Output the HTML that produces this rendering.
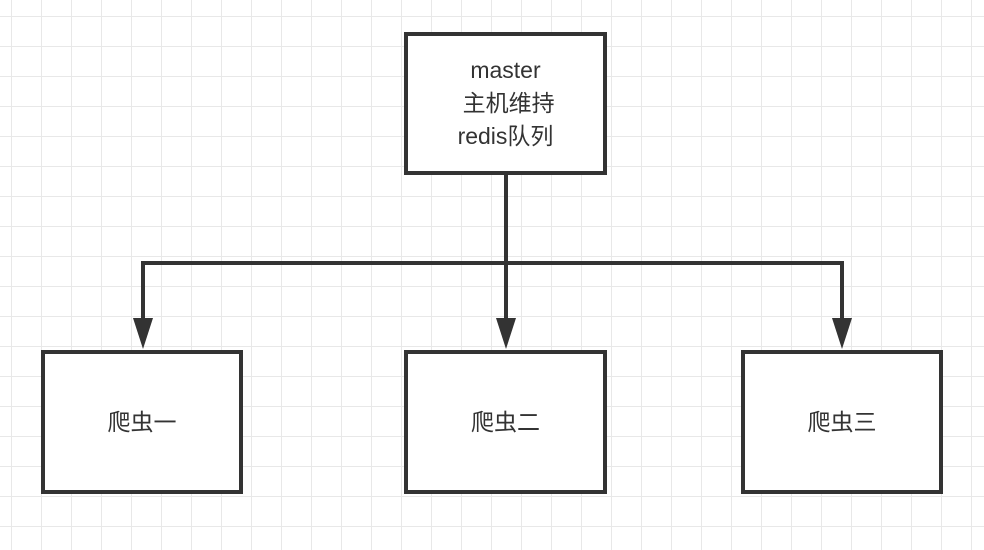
<!DOCTYPE html>
<html><head><meta charset="utf-8"><style>
html,body{margin:0;padding:0;}
body{width:984px;height:550px;overflow:hidden;background:#fff;
background-image:linear-gradient(to right,#e8e8e8 1px,transparent 1px),linear-gradient(to bottom,#e8e8e8 1px,transparent 1px);
background-size:30px 30px;background-position:11px 16px;position:relative;
font-family:"Liberation Sans","Noto Sans CJK SC",sans-serif;color:#333;}
.box{position:absolute;box-sizing:border-box;border:4px solid #333;background:#fff;display:flex;align-items:center;justify-content:center;text-align:center;font-size:23px;line-height:33px;}
svg{position:absolute;left:0;top:0;}
</style></head><body>
<svg width="984" height="550">
<g stroke="#333" stroke-width="4" fill="none">
<line x1="506" y1="173" x2="506" y2="320"/>
<polyline points="143,320 143,263 842,263 842,320"/>
</g>
<g fill="#333">
<polygon points="133,318 153,318 143,349"/>
<polygon points="496,318 516,318 506,349"/>
<polygon points="832,318 852,318 842,349"/>
</g>
</svg>
<div class="box" style="left:404px;top:32px;width:203px;height:143px;">master<br>&nbsp;主机维持<br>redis队列</div>
<div class="box" style="left:41px;top:350px;width:202px;height:144px;">爬虫一</div>
<div class="box" style="left:404px;top:350px;width:203px;height:144px;">爬虫二</div>
<div class="box" style="left:741px;top:350px;width:202px;height:144px;">爬虫三</div>
</body></html>
